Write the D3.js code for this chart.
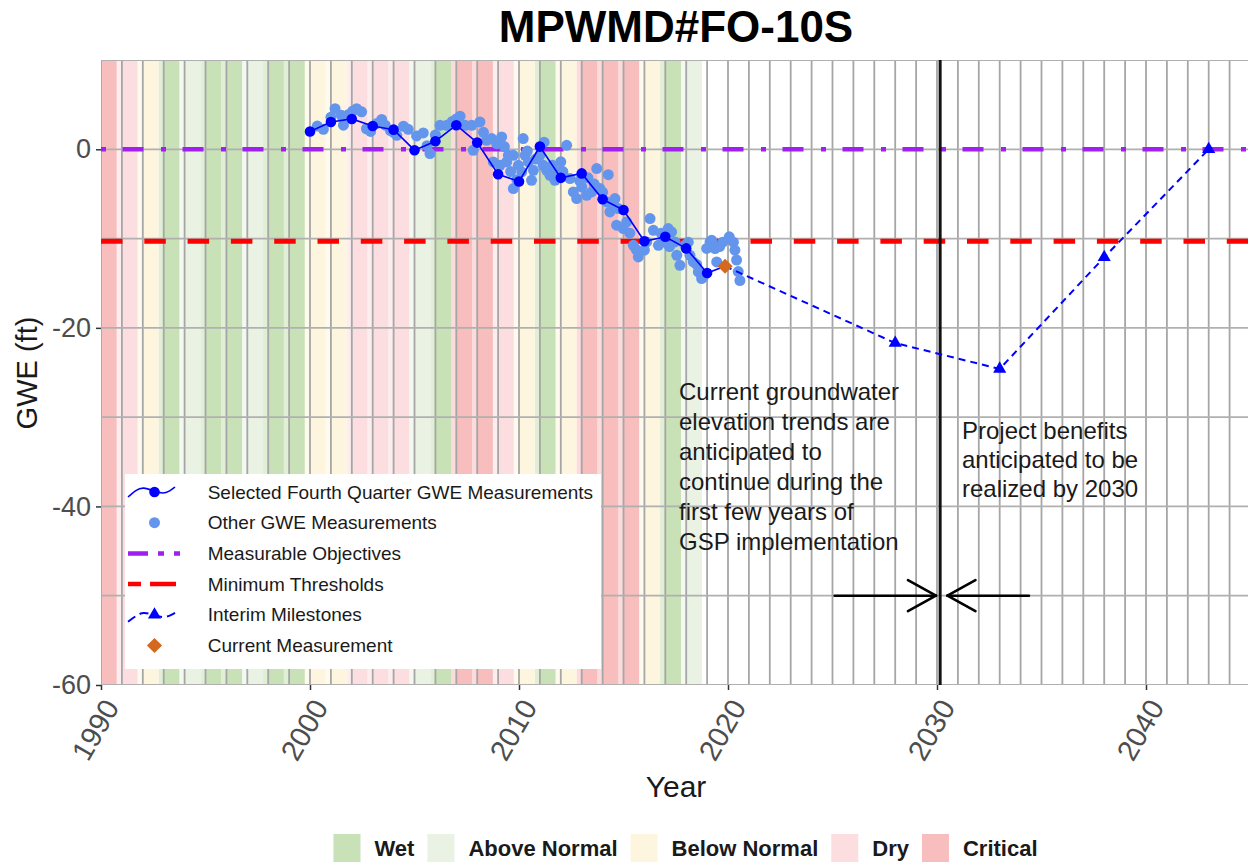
<!DOCTYPE html>
<html><head><meta charset="utf-8">
<script src="https://cdn.jsdelivr.net/npm/d3@7"></script>
<style>body{margin:0;background:#fff;} text{font-family:"Liberation Sans", Arial, sans-serif;}</style>
</head><body><svg id="c" width="1248" height="865"></svg>
<script>
// ---------------- data ----------------
const wyYears = d3.range(1990, 2019);
const wyTypes = ["Critical","Dry","Below Normal","Wet","Above Normal","Wet","Wet","Above Normal","Wet","Wet",
  "Below Normal","Below Normal","Dry","Dry","Dry","Above Normal","Wet","Critical","Critical","Dry",
  "Below Normal","Wet","Below Normal","Critical","Critical","Critical","Below Normal","Wet","Above Normal"];
const typeNames = ["Wet","Above Normal","Below Normal","Dry","Critical"];
const typeColors = ["#c9e1b6","#eaf2e4","#fef5de","#fcdee0","#f8bdbd"];

const selYears = [2000,2001,2002,2003,2004,2005,2006,2007,2008,2009,2010,2011,2012,2013,2014,2015,2016,2017,2018,2019];
const selValues = [2.0,3.05,3.4,2.6,2.2,-0.1,0.9,2.7,0.75,-2.8,-3.6,0.3,-3.2,-2.7,-5.6,-6.8,-10.3,-9.8,-11.1,-13.85];

const otherYears = [2000.35,2000.64,2001.0,2001.2,2001.5,2001.6,2001.85,2002.05,2002.23,2002.47,2002.7,2002.9,2003.2,2003.43,2003.6,2003.85,2004.0,2004.15,2004.47,2004.7,
  2005.1,2005.42,2005.6,2005.74,2006.0,2006.22,2006.54,2006.8,2007.0,2007.18,2007.42,2007.74,2007.81,2008.13,2008.3,2008.45,2008.69,2008.77,2008.93,2009.09,
  2009.17,2009.3,2009.41,2009.49,2009.6,2009.73,2009.73,2009.9,2009.97,2010.13,2010.2,2010.29,2010.4,2010.45,2010.6,2010.69,2010.8,2011.0,2011.16,2011.2,
  2011.32,2011.48,2011.6,2011.72,2011.88,2012.0,2012.1,2012.28,2012.44,2012.6,2012.76,2012.9,2013.0,2013.24,2013.3,2013.48,2013.6,2013.72,2013.87,2014.0,
  2014.2,2014.27,2014.35,2014.5,2014.59,2014.67,2014.75,2014.99,2015.15,2015.3,2015.47,2015.6,2015.71,2016.0,2016.11,2016.27,2016.43,2016.67,2016.8,2016.9,
  2017.14,2017.2,2017.3,2017.46,2017.55,2017.7,2017.94,2018.1,2018.18,2018.34,2018.5,2018.58,2018.74,2018.82,2018.98,2019.14,2019.22,2019.38,2019.46,2019.6,
  2019.75,2020.06,2020.26,2020.33,2020.41,2020.49,2020.57];
const otherValues = [2.6,2.24,3.6,4.55,3.8,2.7,3.9,4.3,4.55,4.2,2.3,2.0,2.9,3.35,2.7,2.1,1.9,1.57,2.58,2.24,
  1.5,1.83,0.4,-0.48,1.6,2.69,2.69,3.1,3.4,3.7,2.69,2.69,-0.11,3.06,1.9,1.0,1.2,-1.42,0.63,-1.79,
  1.38,0.3,-1.42,-0.67,-2.5,-0.67,-4.4,-3.4,-1.79,-2.54,1.2,-0.67,-0.2,-1.42,-3.47,-2.35,-1.1,-0.67,-1.79,0.8,
  -2.35,-2.91,-1.8,-3.47,-2.54,-1.4,-2.5,0.45,-3.28,-4.78,-5.52,-3.5,-4.22,-5.15,-3.2,-4.78,-3.9,-2.16,-4.4,-4.8,
  -5.9,-2.84,-7.02,-6.1,-5.52,-8.5,-6.64,-8.88,-8.14,-9.4,-10.75,-11.2,-12.06,-11.3,-10.38,-7.76,-9.07,-10.75,-9.4,-10.38,
  -8.88,-10.9,-9.26,-10.38,-11.87,-12.99,-10.75,-10.4,-11.87,-12.62,-12.9,-13.74,-14.48,-14.3,-11.1,-10.38,-10.2,-11.12,-12.62,-10.9,
  -10.4,-9.8,-10.4,-11.3,-12.4,-13.7,-14.7];

const currentYear = 2019.86, currentValue = -13.1;
const milestoneYears = [2028, 2033, 2038, 2043];
const milestoneValues = [-21.7, -24.6, -12.1, 0];
const measurableObjective = 0;
const minimumThreshold = -10.3;
const gspYear = 2030.15;
const arrowStartYears = [2025.1, 2034.4];
const arrowEndYears = [2029.95, 2030.5];
const arrowLevel = -50;

const xTicks = [1990, 2000, 2010, 2020, 2030, 2040];
const yTicks = [0, -20, -40, -60];
const legendLabels = ["Selected Fourth Quarter GWE Measurements","Other GWE Measurements","Measurable Objectives",
  "Minimum Thresholds","Interim Milestones","Current Measurement"];
const note1 = ["Current groundwater","elevation trends are","anticipated to","continue during the","first few years of","GSP implementation"];
const note2 = ["Project benefits","anticipated to be","realized by 2030"];
const title = "MPWMD#FO-10S";

// ---------------- drawing ----------------
const svg = d3.select("#c");
const L = 101, T = 60, R = 1248, B = 685;
const x = d3.scaleLinear().domain([1990, 2045]).range([101, 1250.5]);
const y = d3.scaleLinear().domain([-60, 10]).range([685, 60]);
const color = d3.scaleOrdinal().domain(typeNames).range(typeColors);

svg.append("rect").attr("width",1248).attr("height",865).attr("fill","#fff");
svg.append("clipPath").attr("id","clip").append("rect").attr("x",L).attr("y",T).attr("width",R-L).attr("height",B-T);
const plot = svg.append("g").attr("clip-path","url(#clip)");

// water year bands
const bands = wyYears.map((yr,i)=>({yr, type: wyTypes[i]}));
plot.selectAll(".strip").data(bands).join("rect")
  .attr("x", d=>x(d.yr-0.25)).attr("y",T).attr("width", d=>x(d.yr)-x(d.yr-0.25)).attr("height",B-T)
  .attr("fill", d=>color(d.type)).attr("fill-opacity",0.55);
plot.selectAll(".band").data(bands).join("rect")
  .attr("x", d=>x(d.yr)).attr("y",T).attr("width", d=>x(d.yr+0.75)-x(d.yr)).attr("height",B-T)
  .attr("fill", d=>color(d.type));

// grid
plot.selectAll(".vg").data(d3.range(1990, 2046)).join("line")
  .attr("x1", d=>x(d)).attr("x2", d=>x(d)).attr("y1",T).attr("y2",B)
  .attr("stroke","#a6a6a6").attr("stroke-width",1.8);
plot.selectAll(".hg").data(d3.range(-60, 11, 10)).join("line")
  .attr("x1",L).attr("x2",R).attr("y1", d=>y(d)).attr("y2", d=>y(d))
  .attr("stroke","#b0b0b0").attr("stroke-width",1.8);

// reference lines
plot.append("line").attr("x1",L).attr("x2",R).attr("y1",y(measurableObjective)).attr("y2",y(measurableObjective))
  .attr("stroke","#a020f0").attr("stroke-width",4.5).attr("stroke-dasharray","5,16.5,21,17.5");
plot.append("line").attr("x1",L).attr("x2",R).attr("y1",y(minimumThreshold)).attr("y2",y(minimumThreshold))
  .attr("stroke","#ff0000").attr("stroke-width",5).attr("stroke-dasharray","21.5,21.8");
plot.append("line").attr("x1",x(gspYear)).attr("x2",x(gspYear)).attr("y1",T).attr("y2",B)
  .attr("stroke","#111").attr("stroke-width",3);

// other measurements
plot.selectAll(".oth").data(otherYears.map((yr,i)=>[yr, otherValues[i]])).join("circle")
  .attr("cx", d=>x(d[0])).attr("cy", d=>y(d[1])).attr("r",5.5).attr("fill","#6495ed");

// selected line
const selPts = selYears.map((yr,i)=>[yr, selValues[i]]);
const line = d3.line().x(d=>x(d[0])).y(d=>y(d[1]));
plot.append("path").datum(selPts.concat([[currentYear, currentValue]])).attr("d", line)
  .attr("fill","none").attr("stroke","#0000ff").attr("stroke-width",1.6);
plot.selectAll(".sel").data(selPts).join("circle")
  .attr("cx", d=>x(d[0])).attr("cy", d=>y(d[1])).attr("r",5.3).attr("fill","#0000ff");

// milestones
const msPts = milestoneYears.map((yr,i)=>[yr, milestoneValues[i]]);
plot.append("path").datum([[currentYear, currentValue]].concat(msPts)).attr("d", line)
  .attr("fill","none").attr("stroke","#0000ff").attr("stroke-width",2).attr("stroke-dasharray","7,5");
const tri = d3.symbol().type(d3.symbolTriangle).size(75);
plot.selectAll(".ms").data(msPts).join("path").attr("d", tri)
  .attr("transform", d=>`translate(${x(d[0])},${y(d[1])})`).attr("fill","#0000ff");

// current
const sq = d3.symbol().type(d3.symbolSquare).size(115);
plot.append("path").attr("d", sq).attr("transform",`translate(${x(currentYear)},${y(currentValue)}) rotate(45)`).attr("fill","#d2691e");

// arrows
arrowStartYears.forEach((s,i)=>{
  const e = arrowEndYears[i];
  const g = svg.append("g").attr("stroke","#000").attr("stroke-width",2.6).attr("fill","none").attr("stroke-linecap","round");
  const x0 = x(s), x1 = x(e), yy = y(arrowLevel), dir = Math.sign(x1-x0);
  g.append("line").attr("x1",x0).attr("x2",x1).attr("y1",yy).attr("y2",yy);
  const hl = 32, ang = 29*Math.PI/180;
  [1,-1].forEach(sgn=>{
    g.append("line").attr("x1",x1).attr("y1",yy)
      .attr("x2", x1 - dir*hl*Math.cos(ang)).attr("y2", yy + sgn*hl*Math.sin(ang));
  });
});

// axes
const ya = svg.append("g").attr("transform",`translate(${L},0)`)
  .call(d3.axisLeft(y).tickValues(yTicks).tickSize(5).tickPadding(5).tickFormat(d=>String(d)));
ya.select(".domain").remove();
ya.selectAll(".tick line").attr("stroke","#333").attr("stroke-width",1.5);
ya.selectAll("text").attr("font-size",27).attr("fill","#4d4d4d").attr("font-family","Liberation Sans, Arial, sans-serif");

const xa = svg.append("g").attr("transform",`translate(0,${B})`)
  .call(d3.axisBottom(x).tickValues(xTicks).tickSize(5).tickFormat(d=>String(d)));
xa.select(".domain").remove();
xa.selectAll(".tick line").attr("stroke","#333").attr("stroke-width",1.5);
xa.selectAll("text").attr("font-size",29).attr("fill","#4d4d4d").attr("font-family","Liberation Sans, Arial, sans-serif")
  .attr("y",null).attr("dy",null).attr("text-anchor","end").attr("dominant-baseline","central")
  .attr("transform","translate(10,17) rotate(-60)");

// titles
svg.append("text").attr("x",676).attr("y",42).attr("text-anchor","middle").attr("font-size",44)
  .attr("font-weight","bold").attr("fill","#000").text(title);
svg.append("text").attr("x",676).attr("y",797).attr("text-anchor","middle").attr("font-size",30).attr("fill","#1a1a1a").text("Year");
svg.append("text").attr("transform","translate(37,373) rotate(-90)").attr("text-anchor","middle").attr("font-size",29)
  .attr("fill","#1a1a1a").text("GWE (ft)");

// annotations
const n1 = svg.append("text").attr("font-size",24).attr("fill","#1a1a1a");
note1.forEach((t,i)=>n1.append("tspan").attr("x",679).attr("y",400+i*30).text(t));
const n2 = svg.append("text").attr("font-size",24).attr("fill","#1a1a1a");
note2.forEach((t,i)=>n2.append("tspan").attr("x",962).attr("y",438.5+i*29).text(t));

// legend box
const lg = svg.append("g");
lg.append("rect").attr("x",125).attr("y",474).attr("width",476).attr("height",195).attr("fill","#fff");
const rowY = i => 492 + i*30.7;
lg.selectAll(".lt").data(legendLabels).join("text").attr("x",207.7).attr("y",(d,i)=>rowY(i))
  .attr("dominant-baseline","central").attr("font-size",19).attr("fill","#1a1a1a").text(d=>d);
const cx = 154.5;
const wave = d3.line().curve(d3.curveBasis);
lg.append("path").attr("d", wave([[128,497],[136,490],[143,487],[154,491],[163,494],[170,491],[175,487]].map(p=>[p[0],p[1]+rowY(0)-492])))
  .attr("fill","none").attr("stroke","#0000ff").attr("stroke-width",1.6);
lg.append("circle").attr("cx",cx).attr("cy",rowY(0)).attr("r",5.3).attr("fill","#0000ff");
lg.append("circle").attr("cx",cx).attr("cy",rowY(1)).attr("r",5.5).attr("fill","#6495ed");
lg.append("line").attr("x1",128).attr("x2",184).attr("y1",rowY(2)).attr("y2",rowY(2))
  .attr("stroke","#a020f0").attr("stroke-width",4.5).attr("stroke-dasharray","20,10,6,10,6,10");
lg.append("line").attr("x1",128).attr("x2",176).attr("y1",rowY(3)).attr("y2",rowY(3))
  .attr("stroke","#ff0000").attr("stroke-width",4.5).attr("stroke-dasharray","13,9,26");
lg.append("path").attr("d", wave([[128,621],[136,615],[143,611],[154,614],[163,617],[170,615],[175,612]].map(p=>[p[0],p[1]+rowY(4)-614])))
  .attr("fill","none").attr("stroke","#0000ff").attr("stroke-width",2).attr("stroke-dasharray","9,5");
lg.append("path").attr("d", tri).attr("transform",`translate(${cx},${rowY(4)})`).attr("fill","#0000ff");
lg.append("path").attr("d", sq).attr("transform",`translate(${cx},${rowY(5)}) rotate(45)`).attr("fill","#d2691e");

// bottom legend
const bl = svg.append("g");
const items = [];
typeNames.forEach((nm,i)=>{
  const g = bl.append("g");
  g.append("rect").attr("x",0).attr("y",-14).attr("width",27).attr("height",28).attr("fill",typeColors[i]);
  const t = g.append("text").attr("x",41).attr("y",8).attr("font-size",22).attr("font-weight","bold").attr("fill","#1a1a1a").text(nm);
  const w = t.node().getComputedTextLength();
  items.push({g, w});
});
let total = 0;
items.forEach((it,i)=>{ total += 41 + it.w + (i<items.length-1 ? 13 : 0); });
let startX = 685.5 - total/2;
items.forEach(it=>{ it.g.attr("transform",`translate(${startX},848)`); startX += 41 + it.w + 13; });
</script></body></html>
